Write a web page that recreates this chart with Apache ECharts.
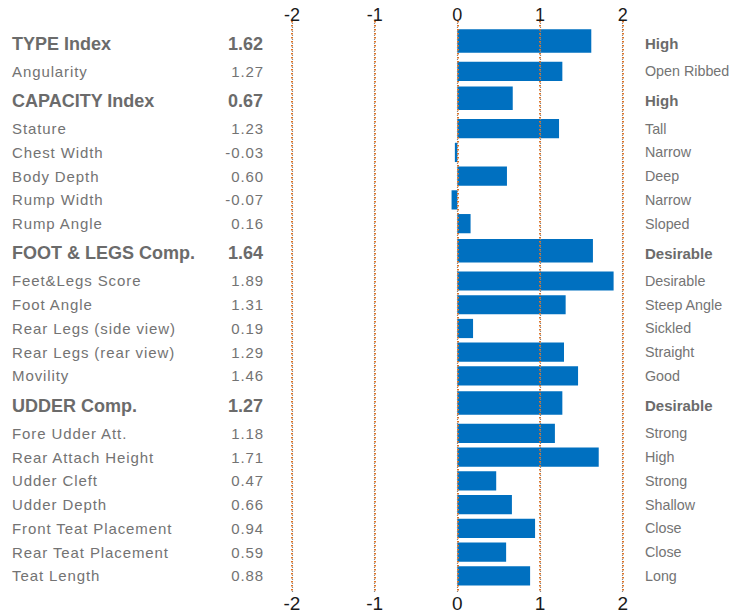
<!DOCTYPE html>
<html><head><meta charset="utf-8">
<script src="https://cdn.jsdelivr.net/npm/echarts@6/dist/echarts.min.js"></script>
<style>
html,body{margin:0;padding:0;background:#fff}
#c{width:748px;height:613px}
#c svg text[fill="#737373"]{letter-spacing:0.9px}
</style>
</head><body><div id="c"></div>
<script>
// ---- data ----
const traits = ['TYPE Index','Angularity','CAPACITY Index','Stature','Chest Width','Body Depth','Rump Width','Rump Angle','FOOT & LEGS Comp.','Feet&Legs Score','Foot Angle','Rear Legs (side view)','Rear Legs (rear view)','Movility','UDDER Comp.','Fore Udder Att.','Rear Attach Height','Udder Cleft','Udder Depth','Front Teat Placement','Rear Teat Placement','Teat Length'];
const scores = [1.62,1.27,0.67,1.23,-0.03,0.60,-0.07,0.16,1.64,1.89,1.31,0.19,1.29,1.46,1.27,1.18,1.71,0.47,0.66,0.94,0.59,0.88];
const descriptors = ['High','Open Ribbed','High','Tall','Narrow','Deep','Narrow','Sloped','Desirable','Desirable','Steep Angle','Sickled','Straight','Good','Desirable','Strong','High','Strong','Shallow','Close','Close','Long'];
const headerRows = [0,2,8,14];
const xTicks = [-2,-1,0,1,2];

// ---- layout (row spacing: header rows are taller) ----
const GAP = {NN:1, NH:1.138, HN:1.277, HH:1.4};
const isHeader = traits.map((_, i) => headerRows.includes(i));
const pos = [];
traits.forEach((_, i) => {
  if (i === 0) { pos.push(0); return; }
  const k = (isHeader[i-1] ? 'H' : 'N') + (isHeader[i] ? 'H' : 'N');
  pos.push(pos[i-1] + GAP[k]);
});
const GRID_TOP = 21, GRID_BOTTOM_Y = 593, FIRST_Y = 41, LAST_Y = 575.8;
const lastPos = pos[pos.length - 1];
const unitPx = (LAST_Y - FIRST_Y) / lastPos;
const yMin = -(FIRST_Y - GRID_TOP) / unitPx;
const yMax = lastPos + (GRID_BOTTOM_Y - LAST_Y) / unitPx;

const rows = traits.map((t, i) => [scores[i], pos[i], isHeader[i] ? 1 : 0, i]);

const FONT = "'Liberation Sans', Arial, sans-serif";
const chart = echarts.init(document.getElementById('c'), null, {renderer: 'svg'});

function renderBar(params, api) {
  const v = api.value(0), p = api.value(1), h = api.value(2);
  const a = api.coord([0, p]), b = api.coord([v, p]);
  const band = api.size([0, 1])[1];
  const bh = band * (h ? 0.99 : 0.81);
  return {
    type: 'rect',
    shape: {x: Math.min(a[0], b[0]), y: a[1] - bh / 2, width: Math.abs(b[0] - a[0]), height: bh},
    style: {fill: '#0070C0'}
  };
}

function renderText(params, api) {
  const p = api.value(1), h = api.value(2), i = api.value(3);
  const c = api.coord([0, p]);
  const y = c[1] + (h ? 2.5 : 0);
  const leftCol = h ? '#6b6b6b' : '#737373';   // normal left text is letter-spaced via CSS
  const rightCol = h ? '#6b6b6b' : '#747474';
  return {
    type: 'group',
    children: [
      {type: 'text', style: {text: traits[i], x: 12, y: y, verticalAlign: 'middle', align: 'left',
        font: (h ? 'bold 18px ' : '15px ') + FONT, fill: leftCol}},
      {type: 'text', style: {text: scores[i].toFixed(2), x: h ? 263 : 264, y: y, verticalAlign: 'middle', align: 'right',
        font: (h ? 'bold 18px ' : '15px ') + FONT, fill: leftCol}},
      {type: 'text', style: {text: descriptors[i], x: 645, y: y, verticalAlign: 'middle', align: 'left',
        font: (h ? 'bold 15px ' : '14.3px ') + FONT, fill: rightCol}}
    ]
  };
}

const xCommon = {
  type: 'value', min: xTicks[0], max: xTicks[xTicks.length - 1], interval: 1,
  axisLine: {show: false}, axisTick: {show: false}, z: 5
};

chart.setOption({
  animation: false,
  backgroundColor: '#fff',
  grid: {left: 292, right: 748 - 622.7, top: GRID_TOP, bottom: 613 - GRID_BOTTOM_Y, containLabel: false},
  xAxis: [
    Object.assign({}, xCommon, {
      position: 'top',
      axisLabel: {fontSize: 18, color: '#1a1a1a', fontFamily: FONT, margin: -3},
      splitLine: {show: true, lineStyle: {color: '#d9742a', type: [1.5, 2.5], width: 2}}
    }),
    Object.assign({}, xCommon, {
      position: 'bottom',
      axisLabel: {fontSize: 19, color: '#1a1a1a', fontFamily: FONT, margin: 1},
      splitLine: {show: true, lineStyle: {color: '#858585', type: [1, 3], dashOffset: 2.25, width: 1.2}}
    })
  ],
  yAxis: {type: 'value', inverse: true, min: yMin, max: yMax, show: false},
  series: [
    {type: 'custom', renderItem: renderBar, data: rows, encode: {x: 0, y: 1}, z: 2, silent: true},
    {type: 'custom', renderItem: renderText, data: rows, encode: {x: 0, y: 1}, z: 3, silent: true, clip: false}
  ]
});
</script>
</body></html>
